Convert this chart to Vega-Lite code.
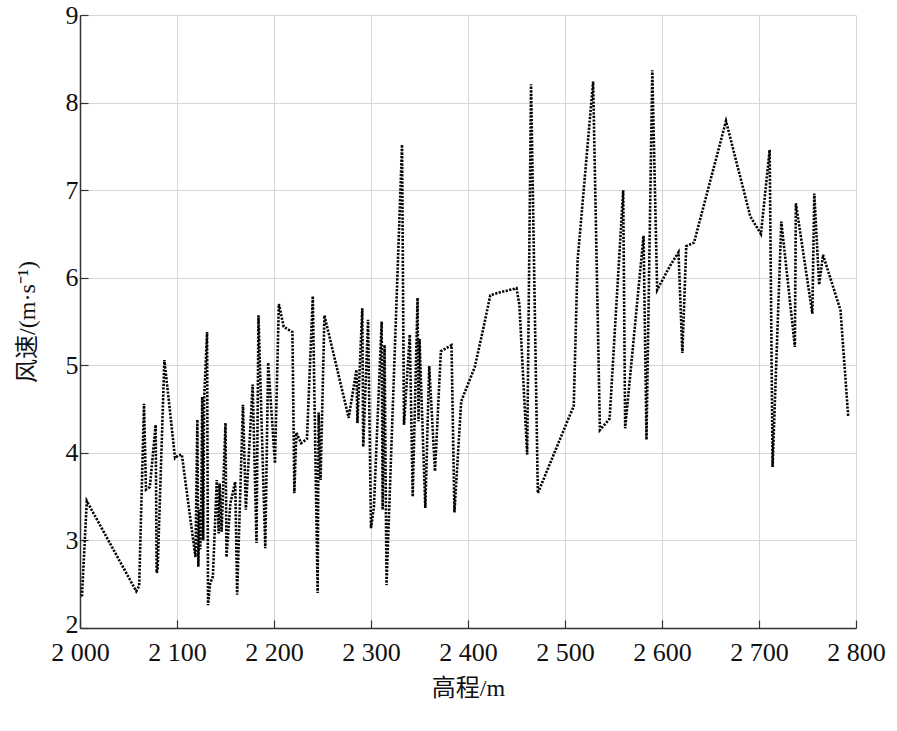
{
  "$schema": "https://vega.github.io/schema/vega-lite/v6.json",
  "width": 776,
  "height": 613,
  "autosize": {"type": "none"},
  "padding": {"left": 80, "top": 15, "right": 41, "bottom": 103},
  "background": "white",
  "config": {
    "view": {"stroke": null},
    "axis": {
      "labelFont": "Liberation Serif, Times New Roman, serif",
      "labelFontSize": 26,
      "labelColor": "#111",
      "labelFlush": false,
      "labelOverlap": false,
      "titleFont": "Liberation Serif, Noto Sans CJK SC, serif",
      "titleFontSize": 24,
      "titleFontWeight": "normal",
      "titleColor": "#111",
      "domainColor": "#333",
      "domainWidth": 1.5,
      "tickColor": "#333",
      "tickSize": -8,
      "tickWidth": 1.2,
      "gridColor": "#d6d6d6",
      "gridWidth": 1
    }
  },
  "data": {
    "values": [
      {"h": 2002, "v": 2.36}, {"h": 2007, "v": 3.45}, {"h": 2058, "v": 2.42}, {"h": 2061, "v": 2.48},
      {"h": 2066, "v": 4.56}, {"h": 2068, "v": 3.58}, {"h": 2072, "v": 3.61}, {"h": 2078, "v": 4.32},
      {"h": 2079, "v": 2.63}, {"h": 2080, "v": 2.66}, {"h": 2087, "v": 5.06}, {"h": 2098, "v": 3.94},
      {"h": 2101, "v": 3.97}, {"h": 2105, "v": 3.98}, {"h": 2119, "v": 2.81}, {"h": 2121, "v": 4.38},
      {"h": 2122, "v": 2.7}, {"h": 2123, "v": 3.35}, {"h": 2124, "v": 2.9}, {"h": 2125, "v": 3.4},
      {"h": 2126, "v": 4.64}, {"h": 2127, "v": 3.0}, {"h": 2128, "v": 4.62}, {"h": 2131, "v": 5.38},
      {"h": 2132, "v": 2.26}, {"h": 2134, "v": 2.5}, {"h": 2137, "v": 2.59}, {"h": 2141, "v": 3.69},
      {"h": 2143, "v": 3.08}, {"h": 2144, "v": 3.65}, {"h": 2146, "v": 3.1}, {"h": 2150, "v": 4.34},
      {"h": 2151, "v": 2.81}, {"h": 2155, "v": 3.42}, {"h": 2160, "v": 3.67}, {"h": 2162, "v": 2.38},
      {"h": 2168, "v": 4.55}, {"h": 2171, "v": 3.35}, {"h": 2178, "v": 4.78}, {"h": 2182, "v": 2.97},
      {"h": 2184, "v": 5.57}, {"h": 2191, "v": 2.91}, {"h": 2194, "v": 5.03}, {"h": 2201, "v": 3.88},
      {"h": 2205, "v": 5.7}, {"h": 2210, "v": 5.44}, {"h": 2219, "v": 5.38}, {"h": 2221, "v": 3.54},
      {"h": 2223, "v": 4.23}, {"h": 2228, "v": 4.11}, {"h": 2234, "v": 4.16}, {"h": 2240, "v": 5.79},
      {"h": 2245, "v": 2.4}, {"h": 2246, "v": 4.46}, {"h": 2248, "v": 3.69}, {"h": 2252, "v": 5.57},
      {"h": 2277, "v": 4.4}, {"h": 2285, "v": 4.95}, {"h": 2286, "v": 4.34}, {"h": 2291, "v": 5.65},
      {"h": 2292, "v": 4.07}, {"h": 2297, "v": 5.52}, {"h": 2300, "v": 3.14}, {"h": 2303, "v": 3.38},
      {"h": 2311, "v": 5.5}, {"h": 2312, "v": 3.35}, {"h": 2314, "v": 5.23}, {"h": 2316, "v": 2.49},
      {"h": 2332, "v": 7.52}, {"h": 2334, "v": 4.32}, {"h": 2340, "v": 5.35}, {"h": 2343, "v": 3.5},
      {"h": 2348, "v": 5.77}, {"h": 2349, "v": 4.36}, {"h": 2350, "v": 5.3}, {"h": 2356, "v": 3.37},
      {"h": 2360, "v": 4.99}, {"h": 2366, "v": 3.79}, {"h": 2372, "v": 5.16}, {"h": 2383, "v": 5.23},
      {"h": 2386, "v": 3.32}, {"h": 2393, "v": 4.59}, {"h": 2407, "v": 4.98}, {"h": 2415, "v": 5.38},
      {"h": 2423, "v": 5.8}, {"h": 2432, "v": 5.83}, {"h": 2450, "v": 5.88}, {"h": 2453, "v": 5.69},
      {"h": 2461, "v": 3.98}, {"h": 2465, "v": 8.21}, {"h": 2472, "v": 3.54}, {"h": 2505, "v": 4.43},
      {"h": 2509, "v": 4.53}, {"h": 2513, "v": 6.2}, {"h": 2529, "v": 8.24}, {"h": 2536, "v": 4.26},
      {"h": 2546, "v": 4.39}, {"h": 2560, "v": 7.0}, {"h": 2562, "v": 4.28}, {"h": 2581, "v": 6.48},
      {"h": 2584, "v": 4.15}, {"h": 2590, "v": 8.37}, {"h": 2595, "v": 5.86}, {"h": 2608, "v": 6.13},
      {"h": 2617, "v": 6.29}, {"h": 2621, "v": 5.14}, {"h": 2625, "v": 6.36}, {"h": 2633, "v": 6.4},
      {"h": 2666, "v": 7.79}, {"h": 2691, "v": 6.7}, {"h": 2702, "v": 6.5}, {"h": 2711, "v": 7.46},
      {"h": 2714, "v": 3.84}, {"h": 2723, "v": 6.64}, {"h": 2737, "v": 5.21}, {"h": 2738, "v": 6.85},
      {"h": 2755, "v": 5.59}, {"h": 2757, "v": 6.96}, {"h": 2762, "v": 5.92}, {"h": 2766, "v": 6.26},
      {"h": 2784, "v": 5.63}, {"h": 2792, "v": 4.41}
    ]
  },
  "mark": {
    "type": "line",
    "color": "#000",
    "strokeWidth": 2.6,
    "strokeDash": [2.2, 1.4],
    "clip": true
  },
  "encoding": {
    "x": {
      "field": "h",
      "type": "quantitative",
      "scale": {"domain": [2000, 2800], "nice": false, "zero": false},
      "axis": {
        "title": "高程/m",
        "values": [2000, 2100, 2200, 2300, 2400, 2500, 2600, 2700, 2800],
        "labelExpr": "replace(format(datum.value, ','), ',', ' ')",
        "labelPadding": 19,
        "titlePadding": 11
      }
    },
    "y": {
      "field": "v",
      "type": "quantitative",
      "scale": {"domain": [2, 9], "nice": false, "zero": false},
      "axis": {
        "title": "风速/(m·s⁻¹)",
        "values": [2, 3, 4, 5, 6, 7, 8, 9],
        "labelPadding": 10,
        "labelOffset": {"condition": {"test": "datum.value == 2", "value": -4}, "value": 0},
        "titlePadding": 26
      }
    }
  }
}
